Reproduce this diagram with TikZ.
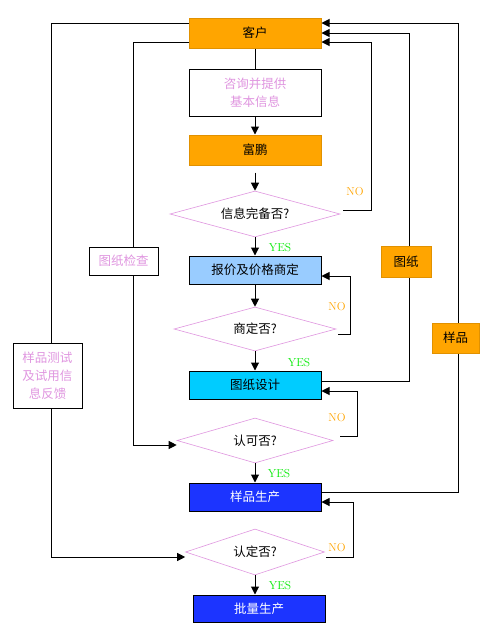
\documentclass[tikz,border=0pt]{standalone}
\usepackage{fontspec}
\usepackage{tikz}
\usetikzlibrary{shapes}
\usetikzlibrary{arrows.meta}
\newfontfamily\cjk{Noto Sans CJK SC}
\definecolor{chengse}{RGB}{255,165,0}
\definecolor{chengbian}{RGB}{225,145,0}
\definecolor{fenhong}{RGB}{224,150,224}
\definecolor{qianlan}{RGB}{153,204,255}
\definecolor{tianlan}{RGB}{0,204,255}
\definecolor{shenlan}{RGB}{28,52,255}
\definecolor{lvse}{RGB}{0,235,0}
\tikzset{box/.style={draw=black, line width=1pt, minimum width=132pt, minimum height=28pt, inner sep=0pt, font=\cjk\fontsize{12.5}{18}\selectfont},
  ju/.style={box, fill=chengse, draw=chengbian},
  panduan/.style={diamond, draw=fenhong, line width=.6pt, inner sep=0pt, font=\cjk\fontsize{12.5}{15}\selectfont},
  biaoqian/.style={draw=black, line width=1pt, inner sep=0pt, text=fenhong, align=center, font=\cjk\fontsize{12.5}{18}\selectfont},
  jian/.style={line width=1pt, -{Triangle[length=8pt,width=8pt]}},
  xian/.style={line width=1pt},
  yes/.style={text=lvse, font=\fontsize{11.5}{13}\selectfont},
  no/.style={text=chengse, font=\fontsize{11.5}{13}\selectfont}}

\begin{document}
\begin{tikzpicture}[x=1pt, y=-1pt]
\path[use as bounding box, fill=white] (0,0) rectangle (496,643);
  \node[ju, minimum height=30pt] (kehu) at (255,33) {客户};
  \node[box, text=fenhong, align=center, minimum height=47pt] (zixun) at (255,92.5) {咨询并提供\\基本信息};
  \node[ju, minimum height=30pt] (fupeng) at (255,150) {富鹏};
  \node[panduan, aspect=3.7, minimum width=170pt, minimum height=46pt] (d1) at (255,214) {信息完备否?};
  \node[box, fill=qianlan] (baojia) at (255,270) {报价及价格商定};
  \node[panduan, aspect=3.7, minimum width=162pt, minimum height=44pt] (d2) at (255,329) {商定否?};
  \node[box, fill=tianlan] (sheji) at (255,385) {图纸设计};
  \node[panduan, aspect=3.5, minimum width=156pt, minimum height=45pt] (d3) at (255,440.5) {认可否?};
  \node[box, fill=shenlan, text=white] (yangchan) at (255,497) {样品生产};
  \node[panduan, aspect=3, minimum width=139pt, minimum height=46pt] (d4) at (255,552) {认定否?};
  \node[box, fill=shenlan, text=white, minimum height=27pt] (piliang) at (259,608.5) {批量生产};
  \node[biaoqian, minimum width=69pt, minimum height=28pt] (jiancha) at (123.5,261) {图纸检查};
  \node[ju, minimum width=50pt, minimum height=31pt] (tuzhi) at (406,261.5) {图纸};
  \node[ju, minimum width=47pt, minimum height=30pt] (yangpin) at (455.5,338) {样品};
  \node[biaoqian, minimum width=69pt, minimum height=65pt] (fankui) at (47.5,375.5) {样品测试\\及试用信\\息反馈};

  \draw[xian] (kehu) -- (zixun);
  \draw[jian] (zixun) -- (fupeng);
  \draw[jian] ([shift={(0,7)}]fupeng.south) -- (d1);
  \draw[jian] (d1) -- (baojia);
  \draw[jian] (baojia) -- (d2);
  \draw[jian] (d2) -- (sheji);
  \draw[jian] (d3) -- (yangchan);
  \draw[jian] (d4.south) -- (d4.south |- piliang.north);

  \draw[jian] ([shift={(3,-4)}]d1.east) -- ++(28,0) |- ([shift={(0,9)}]kehu.east);
  \draw[jian] ([shift={(2,5)}]d2.east) -- ++(12,0) |- ([shift={(0,6)}]baojia.east);
  \draw[jian] ([shift={(7,-4.5)}]d3.east) -- ++(17,0) |- ([shift={(0,6)}]sheji.east);
  \draw[jian] ([shift={(1.5,5)}]d4.east) -- ++(27,0) |- ([shift={(0,5)}]yangchan.east);

  \draw[xian] ([shift={(0,-4)}]sheji.east) -| ([shift={(3,0)}]tuzhi.south);
  \draw[jian] ([shift={(3,0)}]tuzhi.north) |- (kehu.east);
  \draw[xian] ([shift={(0,-5)}]yangchan.east) -| ([shift={(2.5,0)}]yangpin.south);
  \draw[jian] ([shift={(2.5,0)}]yangpin.north) |- ([shift={(0,-10)}]kehu.east);

  \draw[xian] ([shift={(0,9)}]kehu.west) -| ([shift={(9.5,0)}]jiancha.north);
  \draw[jian] ([shift={(9.5,0)}]jiancha.south) |- ([shift={(0,4.5)}]d3.west);
  \draw[xian] ([shift={(0,-10)}]kehu.west) -| ([shift={(3.5,0)}]fankui.north);
  \draw[jian] ([shift={(3.5,0)}]fankui.south) |- ([shift={(0,5)}]d4.west);

  \node[yes] (y1) at (280,248) {YES};
  \node[yes] (y2) at (299,363) {YES};
  \node[yes] (y3) at (279,474) {YES};
  \node[yes] (y4) at (280,586) {YES};
  \node[no] (n1) at (355,192) {NO};
  \node[no] (n2) at (337,307) {NO};
  \node[no] (n3) at (337,418) {NO};
  \node[no] (n4) at (337,548) {NO};
\end{tikzpicture}
\end{document}
